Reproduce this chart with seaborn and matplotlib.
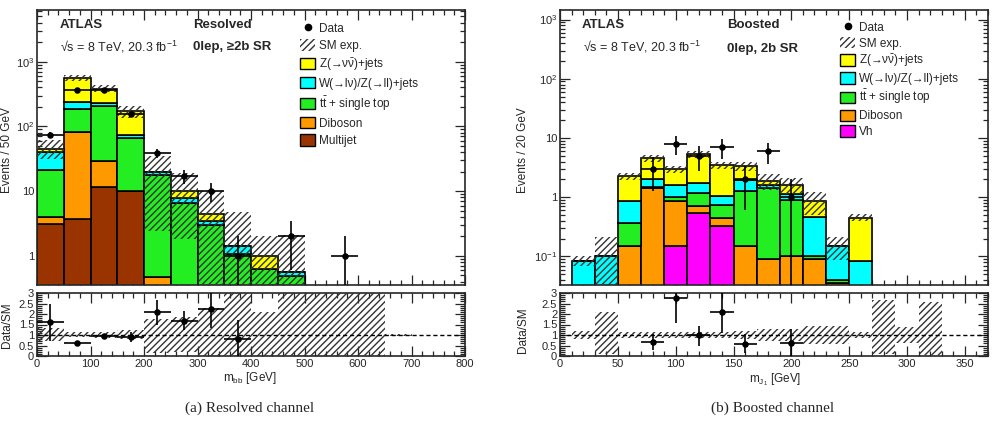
import numpy as np
import pandas as pd
import matplotlib
matplotlib.use('Agg')
import matplotlib.pyplot as plt
from matplotlib.patches import Patch
from matplotlib.lines import Line2D
from matplotlib.ticker import LogLocator, MultipleLocator, FuncFormatter, NullFormatter
import seaborn as sns

sns.set_theme(style="ticks")
plt.rcParams['font.family'] = ['Liberation Sans', 'DejaVu Sans']
plt.rcParams['mathtext.fontset'] = 'custom'
plt.rcParams['mathtext.rm'] = 'Liberation Sans'
plt.rcParams['mathtext.it'] = 'Liberation Sans:italic'
plt.rcParams['mathtext.bf'] = 'Liberation Sans:bold'
plt.rcParams['hatch.linewidth'] = 1.0
plt.rcParams['hatch.color'] = '#333333'

# ---- Resolved channel: m_bb, 50 GeV bins ----
res_edges = [0, 50, 100, 150, 200, 250, 300, 350, 400, 450, 500]
res_multijet = [3.1, 3.7, 11.4, 9.9, 0, 0, 0, 0, 0, 0]
res_diboson = [0.9, 79, 17.6, 0.1, 0.48, 0, 0, 0, 0, 0]
res_top = [17, 101, 175, 56, 17.5, 6.5, 3.0, 1.07, 0.62, 0.49]
res_wz = [19, 51, 26, 8, 2.0, 1.3, 0.5, 0.36, 0, 0.07]
res_zvv = [5, 325, 155, 97, 0, 2.4, 1.0, 0, 0.36, 0]

res_data_x = [25, 75, 125, 175, 225, 275, 325, 375, 475, 575]
res_data = [74, 370, 370, 157, 39, 17, 10, 1, 2, 1]
res_data_err = [8.6, 19.2, 19.2, 12.5, 6.2, 4.1, 3.2, 1.0, 1.4, 1.0]

# SM uncertainty band (relative), 50 GeV bins 0-700
res_band_edges = [0, 50, 100, 150, 200, 250, 300, 350, 400, 450, 500, 550, 600, 650, 700]
res_band_lo = [0.7, 0.9, 0.88, 0.8, 0.12, 0.18, 0, 0, 0, 0, 0, 0, 0, 0.95]
res_band_hi = [1.35, 1.12, 1.13, 1.22, 1.75, 1.86, 2.27, 3.3, 2.08, 3.8, 3.5, 3.5, 3.5, 1.05]

res_ratio_x = [25, 75, 125, 175, 225, 275, 325, 375]
res_ratio = [1.6, 0.63, 0.95, 0.9, 2.08, 1.68, 2.24, 0.79]
res_ratio_lo = [0.89, 0.04, 0.06, 0.22, 0.61, 0.45, 0.89, 0.79]
res_ratio_hi = [0.9, 0.04, 0.06, 0.26, 0.6, 0.45, 0.8, 0.92]

# ---- Boosted channel: m_J1, 20 GeV bins ----
bst_edges = [10, 30, 50, 70, 90, 110, 130, 150, 170, 190, 210, 230, 250, 270]
bst_vh = [0, 0, 0, 0, 0.15, 0.55, 0.33, 0, 0, 0, 0, 0, 0]
bst_diboson = [0, 0, 0.15, 1.42, 0.70, 0.15, 0.12, 0.148, 0.09, 0.1, 0.09, 0.036, 0]
bst_top = [0, 0, 0.22, 0.08, 0.15, 0.47, 0.29, 1.15, 1.33, 0.8, 0.01, 0.004, 0]
bst_wz = [0.085, 0.1, 0.5, 0.55, 0.64, 0.56, 0.29, 0.65, 0.18, 0.25, 0.36, 0.11, 0.083]
bst_zvv = [0, 0, 1.38, 2.55, 1.31, 3.57, 2.48, 1.45, 0.3, 0.45, 0.39, 0, 0.37]

bst_data_x = [80, 100, 120, 140, 160, 180, 200]
bst_data = [3, 8, 5, 7, 2, 6, 1]
bst_data_err = [1.7, 2.8, 2.2, 2.6, 1.4, 2.4, 1.0]

bst_band_edges = [10, 30, 50, 70, 90, 110, 130, 150, 170, 190, 210, 230, 250, 270, 290, 310, 330]
bst_band_lo = [0.82, 0.08, 0.86, 0.86, 0.86, 0.86, 0.86, 0.82, 0.7, 0.7, 0.58, 0.58, 0.86, 0.1, 0.6, 0.05]
bst_band_hi = [1.18, 2.1, 1.14, 1.14, 1.14, 1.14, 1.14, 1.18, 1.3, 1.3, 1.42, 1.42, 1.14, 2.65, 1.4, 2.55]

bst_ratio_x = [80, 100, 120, 140, 160, 200]
bst_ratio = [0.67, 2.78, 0.98, 2.11, 0.59, 0.6]
bst_ratio_lo = [0.4, 1.19, 0.5, 1.0, 0.43, 0.6]
bst_ratio_hi = [0.36, 1.2, 0.45, 1.0, 0.44, 0.67]

LBL_Z = r'Z(→ν$\mathrm{\bar{ν}}$)+jets'
LBL_W = 'W(→lν)/Z(→ll)+jets'
LBL_TT = r't$\mathrm{\bar{t}}$ + single top'
colors = {LBL_Z: '#ffff00', LBL_W: '#00ffff', LBL_TT: '#22ee22',
          'Diboson': '#ff9900', 'Multijet': '#993300', 'Vh': '#ff00ff'}

W, H = 996, 422
fig = plt.figure(figsize=(W / 100, H / 100), dpi=100)


def box(x0, y0, x1, y1):
    return [x0 / W, 1 - y1 / H, (x1 - x0) / W, (y1 - y0) / H]


def ftext(x, y, s, **kw):
    fig.text(x / W, 1 - y / H, s, **kw)


def stack(ax, edges, comps):
    # comps: list of (label, values), top of stack first
    centers = [(a + b) / 2 for a, b in zip(edges[:-1], edges[1:])]
    df = pd.concat([pd.DataFrame({'m': centers, 'events': v, 'process': lab}) for lab, v in comps])
    sns.histplot(data=df, x='m', weights='events', hue='process',
                 hue_order=[lab for lab, _ in comps], multiple='stack', bins=edges,
                 palette=colors, edgecolor='black', linewidth=1.2, alpha=1,
                 legend=False, ax=ax, zorder=2)
    return np.sum([v for _, v in comps], axis=0)


def hatch_band(ax, edges, lo, hi):
    lo = np.append(lo, lo[-1])
    hi = np.append(hi, hi[-1])
    ax.fill_between(edges, lo, hi, step='post', facecolor='none', edgecolor='#333333',
                    hatch='/////', linewidth=0, zorder=3)


def data_points(ax, x, y, ylo, yhi, half):
    ax.errorbar(x, y, yerr=[ylo, yhi], xerr=half, fmt='none', ecolor='black',
                elinewidth=1.2, capsize=0, zorder=5)
    sns.scatterplot(x=x, y=y, color='black', s=22, edgecolor='black', linewidth=0,
                    ax=ax, zorder=6)


def log_fmt(v, p):
    e = int(round(np.log10(v)))
    return {-1: '$10^{-1}$', 0: '1', 1: '10', 2: '$10^{2}$', 3: '$10^{3}$'}.get(e, '')


def style(ax, major, minor, log=False):
    ax.tick_params(which='both', direction='in', top=True, right=True, labelsize=8,
                   width=0.9, pad=2)
    ax.tick_params(which='major', length=7)
    ax.tick_params(which='minor', length=3.5)
    ax.xaxis.set_major_locator(MultipleLocator(major))
    ax.xaxis.set_minor_locator(MultipleLocator(minor))
    if log:
        ax.set_yscale('log')
        ax.yaxis.set_major_locator(LogLocator(base=10, numticks=12))
        ax.yaxis.set_minor_locator(LogLocator(base=10, subs=np.arange(2, 10), numticks=12))
        ax.yaxis.set_major_formatter(FuncFormatter(log_fmt))
        ax.yaxis.set_minor_formatter(NullFormatter())
    else:
        ax.yaxis.set_major_locator(MultipleLocator(0.5))
        ax.yaxis.set_minor_locator(MultipleLocator(0.1))
        ax.yaxis.set_major_formatter(FuncFormatter(lambda v, p: f'{v:g}'))
    for s in ax.spines.values():
        s.set_linewidth(1.2)
    ax.set_xlabel('')
    ax.set_ylabel('')


# ================= Resolved =================
axm = fig.add_axes(box(37, 10, 465, 285))
total = stack(axm, res_edges, [(LBL_Z, res_zvv), (LBL_W, res_wz), (LBL_TT, res_top),
                               ('Diboson', res_diboson), ('Multijet', res_multijet)])
n = len(total)
hatch_band(axm, res_edges, np.maximum(total * np.array(res_band_lo[:n]), 1e-3),
           total * np.array(res_band_hi[:n]))
data_points(axm, res_data_x, res_data, np.minimum(res_data_err, np.array(res_data) - 1e-3),
            res_data_err, 25)
style(axm, 100, 20, log=True)
axm.set_xlim(0, 800)
axm.set_ylim(0.355, 6300)
axm.tick_params(labelbottom=False)

axr = fig.add_axes(box(37, 293, 465, 356))
hatch_band(axr, res_band_edges, res_band_lo, res_band_hi)
axr.axhline(1, ls=(0, (3, 2)), color='black', lw=1, zorder=4)
data_points(axr, res_ratio_x, res_ratio, res_ratio_lo, res_ratio_hi, 25)
style(axr, 100, 20)
axr.set_xlim(0, 800)
axr.set_ylim(0, 3)

leg_handles = [Line2D([], [], marker='o', color='black', ls='none', ms=4.5),
               Patch(facecolor='none', edgecolor='#333333', hatch='/////', linewidth=0)]
res_labels = ['Data', 'SM exp.', LBL_Z, LBL_W, LBL_TT, 'Diboson', 'Multijet']
res_handles = leg_handles + [Patch(facecolor=colors[l], edgecolor='black', linewidth=1.0)
                             for l in res_labels[2:]]
axm.legend(res_handles, res_labels, loc='upper left', bbox_to_anchor=(300 / W, 1 - 22 / H),
           bbox_transform=fig.transFigure, frameon=False, fontsize=8.5, borderpad=0,
           borderaxespad=0, handlelength=1.3, handleheight=1.1, handletextpad=0.3,
           labelspacing=0.38)

ftext(60, 25, 'ATLAS', fontsize=9.5, fontweight='bold', va='center')
ftext(60, 47, '√s = 8 TeV, 20.3 fb$^{-1}$', fontsize=9, va='center')
ftext(193, 25, 'Resolved', fontsize=9.5, fontweight='bold', va='center')
ftext(193, 47, '0lep, ≥2b SR', fontsize=9.5, fontweight='bold', va='center')
ftext(7, 150, 'Events / 50 GeV', fontsize=8.5, rotation=90, ha='center', va='center')
ftext(7, 325, 'Data/SM', fontsize=8.5, rotation=90, ha='center', va='center')
ftext(250, 378, r'm$_{\mathrm{bb}}$ [GeV]', fontsize=8.5, ha='center', va='center')
ftext(250, 408, '(a) Resolved channel', fontsize=11, ha='center', va='center',
      family='Liberation Serif')

# ================= Boosted =================
bxm = fig.add_axes(box(560, 10, 988, 285))
total_b = stack(bxm, bst_edges, [(LBL_Z, bst_zvv), (LBL_W, bst_wz), (LBL_TT, bst_top),
                                 ('Diboson', bst_diboson), ('Vh', bst_vh)])
nb = len(total_b)
hatch_band(bxm, bst_edges, np.maximum(total_b * np.array(bst_band_lo[:nb]), 1e-4),
           total_b * np.array(bst_band_hi[:nb]))
data_points(bxm, bst_data_x, bst_data, np.minimum(bst_data_err, np.array(bst_data) - 1e-4),
            bst_data_err, 10)
style(bxm, 50, 10, log=True)
bxm.set_xlim(0, 370)
bxm.set_ylim(0.033, 1450)
bxm.tick_params(labelbottom=False)

bxr = fig.add_axes(box(560, 293, 988, 356))
hatch_band(bxr, bst_band_edges, bst_band_lo, bst_band_hi)
bxr.axhline(1, ls=(0, (3, 2)), color='black', lw=1, zorder=4)
data_points(bxr, bst_ratio_x, bst_ratio, bst_ratio_lo, bst_ratio_hi, 10)
style(bxr, 50, 10)
bxr.set_xlim(0, 370)
bxr.set_ylim(0, 3)

bst_labels = ['Data', 'SM exp.', LBL_Z, LBL_W, LBL_TT, 'Diboson', 'Vh']
bst_handles = leg_handles + [Patch(facecolor=colors[l], edgecolor='black', linewidth=1.0)
                             for l in bst_labels[2:]]
bxm.legend(bst_handles, bst_labels, loc='upper left', bbox_to_anchor=(840 / W, 1 - 21 / H),
           bbox_transform=fig.transFigure, frameon=False, fontsize=8.5, borderpad=0,
           borderaxespad=0, handlelength=1.3, handleheight=1.1, handletextpad=0.3,
           labelspacing=0.27)

ftext(582, 25, 'ATLAS', fontsize=9.5, fontweight='bold', va='center')
ftext(583, 47, '√s = 8 TeV, 20.3 fb$^{-1}$', fontsize=9, va='center')
ftext(727, 25, 'Boosted', fontsize=9.5, fontweight='bold', va='center')
ftext(727, 49, '0lep, 2b SR', fontsize=9.5, fontweight='bold', va='center')
ftext(523, 150, 'Events / 20 GeV', fontsize=8.5, rotation=90, ha='center', va='center')
ftext(523, 330, 'Data/SM', fontsize=8.5, rotation=90, ha='center', va='center')
ftext(775, 380, r'm$_{\mathrm{J}_1}$ [GeV]', fontsize=8.5, ha='center', va='center')
ftext(773, 408, '(b) Boosted channel', fontsize=11, ha='center', va='center',
      family='Liberation Serif')

fig.savefig('out.png', dpi=100)
